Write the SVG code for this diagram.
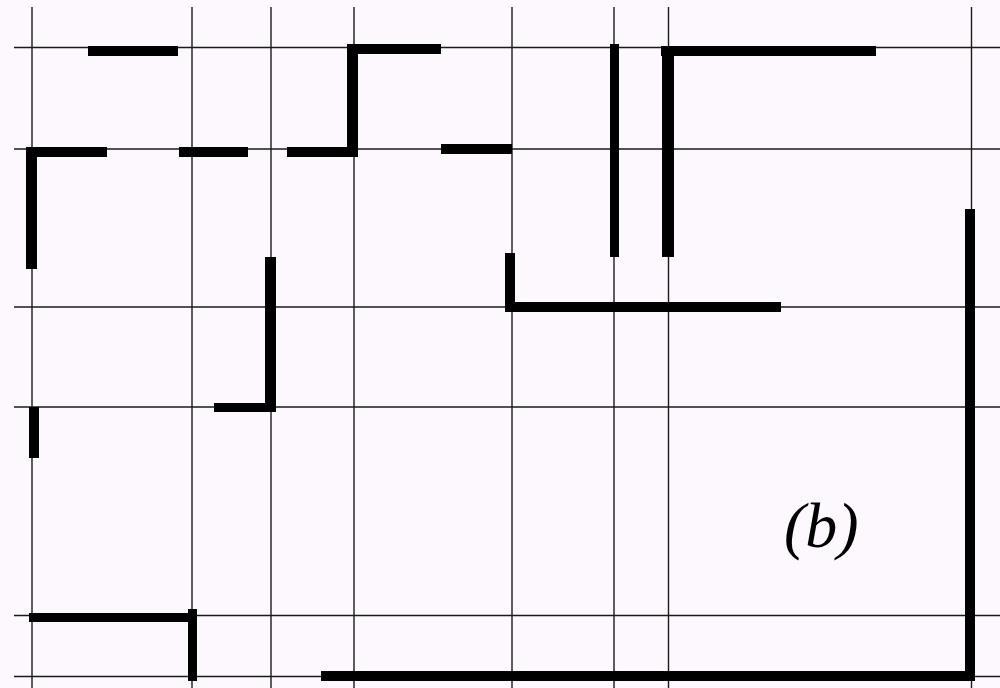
<svg xmlns="http://www.w3.org/2000/svg" width="1000" height="688" viewBox="0 0 1000 688">
<style>
.g{stroke:#1a1a1a;stroke-width:1.4;fill:none}
.w{fill:#000}
.lbl{font-family:"Liberation Serif","Times New Roman",serif;font-style:italic;font-size:64px;fill:#000}
</style>
<rect x="0" y="0" width="1000" height="688" fill="#fdf8fd"/>
<g id="grid">
<line class="g" x1="32" y1="7" x2="32" y2="688"/>
<line class="g" x1="192" y1="7" x2="192" y2="688"/>
<line class="g" x1="271" y1="7" x2="271" y2="688"/>
<line class="g" x1="354" y1="7" x2="354" y2="688"/>
<line class="g" x1="512" y1="7" x2="512" y2="688"/>
<line class="g" x1="614" y1="7" x2="614" y2="688"/>
<line class="g" x1="668.5" y1="7" x2="668.5" y2="688"/>
<line class="g" x1="971.5" y1="7" x2="971.5" y2="688"/>
<line class="g" x1="14" y1="47.5" x2="1000" y2="47.5"/>
<line class="g" x1="14" y1="149" x2="1000" y2="149"/>
<line class="g" x1="14" y1="307" x2="1000" y2="307"/>
<line class="g" x1="14" y1="407" x2="1000" y2="407"/>
<line class="g" x1="14" y1="615.5" x2="1000" y2="615.5"/>
<line class="g" x1="14" y1="676.5" x2="1000" y2="676.5"/>
</g>
<g id="walls">
<rect class="w" x="88" y="46" width="90" height="10"/>
<rect class="w" x="26" y="147" width="81" height="10"/>
<rect class="w" x="26" y="147" width="11" height="122"/>
<rect class="w" x="179" y="147" width="69" height="10"/>
<rect class="w" x="287" y="147" width="71" height="10"/>
<rect class="w" x="347" y="44" width="11" height="111"/>
<rect class="w" x="347" y="44" width="94" height="10"/>
<rect class="w" x="441" y="144" width="71" height="10"/>
<rect class="w" x="610" y="44" width="9" height="213"/>
<rect class="w" x="662" y="46" width="12" height="211"/>
<rect class="w" x="661" y="46" width="215" height="10"/>
<rect class="w" x="505" y="253" width="10" height="58"/>
<rect class="w" x="505" y="302" width="276" height="10"/>
<rect class="w" x="265" y="257" width="11" height="155"/>
<rect class="w" x="214" y="403" width="62" height="9"/>
<rect class="w" x="29" y="407" width="10" height="51"/>
<rect class="w" x="29" y="613" width="167" height="9"/>
<rect class="w" x="188" y="609" width="9" height="72"/>
<rect class="w" x="321" y="671" width="653" height="10"/>
<rect class="w" x="965" y="209" width="10" height="472"/>
</g>
<text class="lbl" x="784" y="547">(b)</text>
</svg>
